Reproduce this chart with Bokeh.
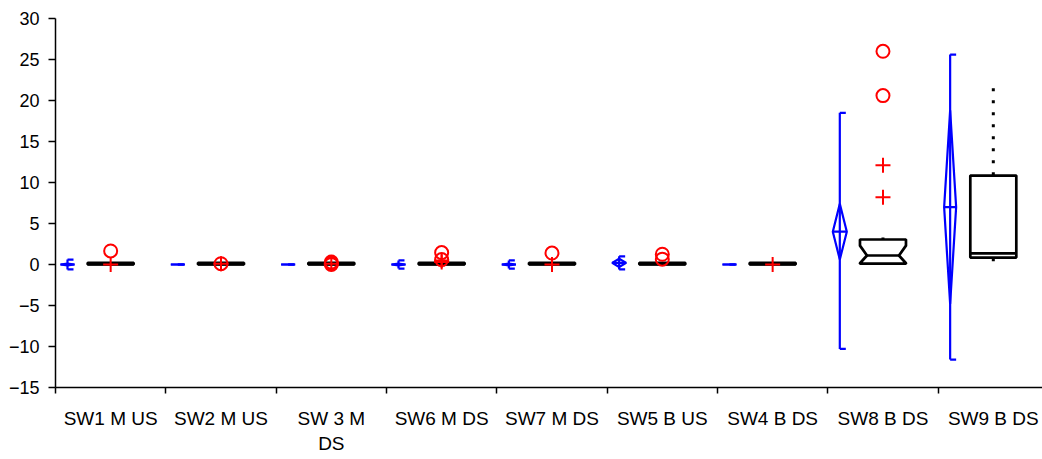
from bokeh.plotting import figure
from bokeh.models import Range1d, FixedTicker, SingleIntervalTicker, LinearAxis
from bokeh.embed import file_html
from bokeh.resources import INLINE

categories = ["SW1 M US", "SW2 M US", "SW 3 M\nDS", "SW6 M DS", "SW7 M DS",
              "SW5 B US", "SW4 B DS", "SW8 B DS", "SW9 B DS"]

# blue: mean, confidence diamond, min/max bracket
means   = [0.0, 0.0, 0.0, 0.0, 0.0, 0.2, 0.0, 4.0, 7.0]
ci_low  = [-0.1, 0.0, 0.0, -0.1, -0.1, -0.3, 0.0, 0.6, -4.8]
ci_high = [0.1, 0.0, 0.0, 0.1, 0.1, 0.7, 0.0, 7.4, 18.8]
mins    = [-0.6, 0.0, 0.0, -0.5, -0.5, -0.6, 0.0, -10.3, -11.6]
maxs    = [0.6, 0.0, 0.0, 0.5, 0.5, 1.0, 0.0, 18.5, 25.6]

# black box plots
q1       = [0.0, 0.0, 0.0, 0.0, 0.0, 0.0, 0.0, 0.1, 0.85]
medians  = [0.05, 0.05, 0.05, 0.05, 0.05, 0.05, 0.05, 1.1, 1.35]
q3       = [0.2, 0.2, 0.2, 0.2, 0.2, 0.2, 0.2, 3.05, 10.85]
whisk_lo = [0.0, 0.0, 0.0, 0.0, 0.0, 0.0, 0.0, 0.0, 0.4]
whisk_hi = [0.2, 0.2, 0.2, 0.2, 0.2, 0.2, 0.2, 3.3, 21.5]
notched  = [False, False, False, False, False, False, False, True, False]
notch_lo = [0, 0, 0, 0, 0, 0, 0, 0.15, 0]
notch_hi = [0, 0, 0, 0, 0, 0, 0, 2.3, 0]

# outliers
far_cat = [0, 1, 2, 2, 2, 3, 3, 4, 5, 5, 7, 7]
far_val = [1.65, 0.1, 0.0, 0.15, 0.3, 1.45, 0.6, 1.4, 1.25, 0.65, 26.0, 20.6]
near_cat = [0, 1, 2, 3, 3, 4, 6, 7, 7]
near_val = [0.0, 0.1, 0.1, 0.5, 0.3, 0.0, 0.0, 12.1, 8.2]

W, H = 1042, 459
LEFT, TOP, BOTTOM, RIGHT = 55, 18, 72, 0
frame_w = W - LEFT - RIGHT
px_per_cat = 110.33
x_end = frame_w / px_per_cat
ux = 1.0 / px_per_cat  # data units per pixel

p = figure(width=W, height=H, output_backend="svg", toolbar_location=None,
           x_range=Range1d(0, x_end), y_range=Range1d(-15, 30),
           min_border_left=LEFT, min_border_top=TOP, min_border_bottom=BOTTOM,
           min_border_right=RIGHT, x_axis_type=None, y_axis_type=None)
p.outline_line_color = None
p.xgrid.visible = False
p.ygrid.visible = False
p.background_fill_color = "white"

yax = LinearAxis(ticker=SingleIntervalTicker(interval=5))
yax.major_tick_out = 7
yax.major_tick_in = 0
yax.minor_tick_out = 0
yax.minor_tick_in = 0
yax.axis_line_width = 1.5
yax.major_tick_line_width = 1.5
yax.major_label_text_font = "Liberation Sans"
yax.major_label_text_font_size = "18px"
yax.major_label_text_color = "black"
yax.major_label_standoff = 9
p.add_layout(yax, "left")

centers = [i + 0.5 for i in range(len(categories))]
xax = LinearAxis(ticker=FixedTicker(ticks=centers,
                                    minor_ticks=list(range(len(categories) + 1))))
xax.major_label_overrides = {c: lab for c, lab in zip(centers, categories)}
xax.major_tick_out = 0
xax.major_tick_in = 0
xax.minor_tick_out = 6
xax.minor_tick_in = 0
xax.minor_tick_line_width = 1.5
xax.minor_tick_line_color = "black"
xax.axis_line_width = 1.5
xax.major_label_text_font = "Liberation Sans"
xax.major_label_text_font_size = "19px"
xax.major_label_text_color = "black"
xax.major_label_standoff = 14
p.add_layout(xax, "below")

BLUE = "#0000FF"
RED = "#FF0000"

# blue elements
xb = [i + 12 * ux for i in range(len(categories))]
cap = 6 * ux
dw = [7 * ux] * 8 + [6 * ux]
p.segment(x0=xb, y0=mins, x1=xb, y1=maxs, line_color=BLUE, line_width=2.2)
p.segment(x0=xb, y0=mins, x1=[x + cap for x in xb], y1=mins, line_color=BLUE, line_width=2.2)
p.segment(x0=xb, y0=maxs, x1=[x + cap for x in xb], y1=maxs, line_color=BLUE, line_width=2.2)
dxs = [[x, x + w, x, x - w] for x, w in zip(xb, dw)]
dys = [[hi, m, lo, m] for hi, m, lo in zip(ci_high, means, ci_low)]
p.patches(xs=dxs, ys=dys, fill_color=None, line_color=BLUE, line_width=2.2)
p.segment(x0=[x - w for x, w in zip(xb, dw)], y0=means,
          x1=[x + w for x, w in zip(xb, dw)], y1=means, line_color=BLUE, line_width=2.2)

# box plots
bw = 23 * ux
ni = 7 * ux
bxs, bys, mx0, mx1 = [], [], [], []
for i, c in enumerate(centers):
    l, r = c - bw, c + bw
    if notched[i]:
        bxs.append([l, r, r, r - ni, r, r, l, l, l + ni, l])
        bys.append([q3[i], q3[i], notch_hi[i], medians[i], notch_lo[i], q1[i],
                    q1[i], notch_lo[i], medians[i], notch_hi[i]])
        mx0.append(l + ni)
        mx1.append(r - ni)
    else:
        bxs.append([l, r, r, l])
        bys.append([q3[i], q3[i], q1[i], q1[i]])
        mx0.append(l)
        mx1.append(r)
# whiskers (dotted), drawn from the end toward the box
p.segment(x0=centers, y0=whisk_hi, x1=centers, y1=q3, line_color="black",
          line_width=3, line_dash="3 9")
p.segment(x0=centers, y0=whisk_lo, x1=centers, y1=q1, line_color="black",
          line_width=3, line_dash="3 9")
p.patches(xs=bxs, ys=bys, fill_color="white", line_color="black", line_width=2.7)
p.segment(x0=mx0, y0=medians, x1=mx1, y1=medians, line_color="black", line_width=2.7)

# outliers
p.scatter(x=[centers[c] for c in far_cat], y=far_val, marker="circle", size=13,
          fill_color=None, line_color=RED, line_width=2)
p.scatter(x=[centers[c] for c in near_cat], y=near_val, marker="cross", size=15,
          line_color=RED, line_width=2)

open("out.html", "w").write(file_html(p, INLINE))
